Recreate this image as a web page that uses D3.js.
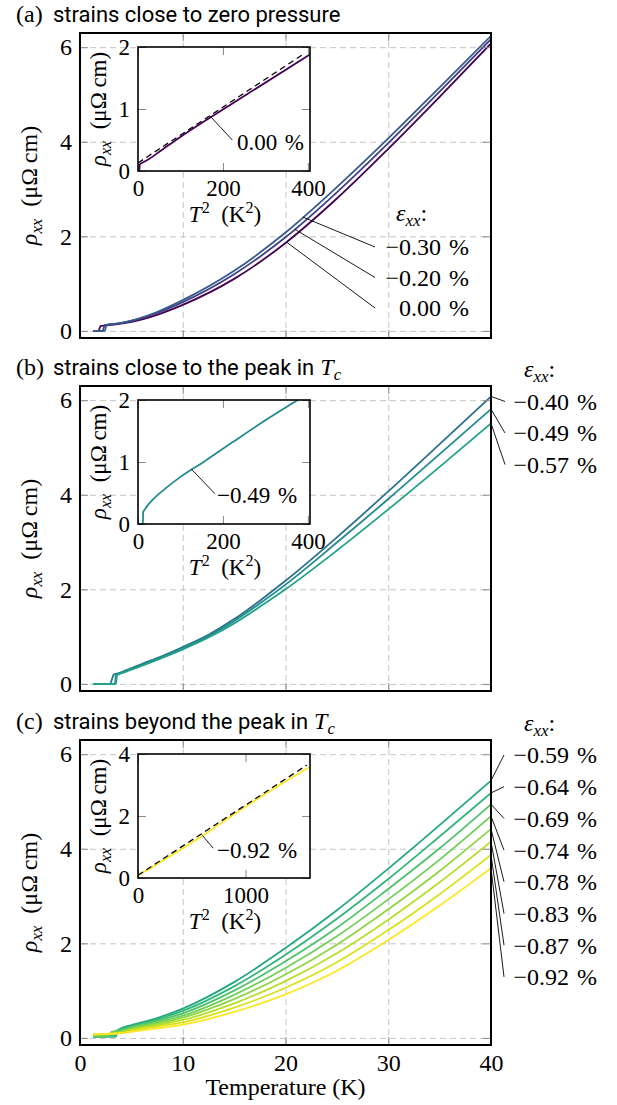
<!DOCTYPE html>
<html>
<head>
<meta charset="utf-8">
<script src="https://cdn.jsdelivr.net/npm/d3@7"></script>
<style>
  body { margin: 0; background: #fff; }
</style>
</head>
<body>
<svg id="chart"></svg>
<script>
// ---- data ----
// panel (a): strains close to zero pressure
const strainsA = [0.00, -0.20, -0.30];
const tempA = [1.3, 1.8, 2.0, 2.2, 2.4, 2.6, 3.5, 5, 7.5, 10, 15, 20, 25, 30, 35, 40];
const rhoA_000 = [0, 0, 0.10, 0.11, 0.115, 0.12, 0.14, 0.19, 0.34, 0.55, 1.10, 1.86, 2.80, 3.85, 4.95, 6.08];
const rhoA_020 = [0, 0, 0, 0, 0.12, 0.125, 0.15, 0.21, 0.38, 0.61, 1.20, 1.98, 2.93, 3.97, 5.06, 6.17];
const rhoA_030 = [0, 0, 0, 0, 0, 0.13, 0.155, 0.22, 0.40, 0.65, 1.27, 2.08, 3.04, 4.07, 5.15, 6.24];
const pointerTA = [20.1, 20.9, 21.7];          // where the label leaders touch the curves (K)
const fitT2A = [0, 393];                       // dashed T^2 fit in inset (a)
const fitRhoA = [0.13, 1.90];

// panel (b): strains close to the peak in Tc
const strainsB = [-0.40, -0.49, -0.57];
const tempB = [1.3, 2.9, 3.3, 3.4, 3.5, 3.6, 4.5, 6, 8, 10, 12.5, 15, 17.5, 20, 25, 30, 35, 40];
const rhoB_040 = [0, 0, 0.20, 0.21, 0.215, 0.22, 0.29, 0.42, 0.59, 0.78, 1.04, 1.37, 1.76, 2.18, 3.10, 4.07, 5.07, 6.08];
const rhoB_049 = [0, 0, 0, 0, 0.20, 0.205, 0.28, 0.40, 0.57, 0.76, 1.01, 1.33, 1.70, 2.10, 2.99, 3.91, 4.86, 5.81];
const rhoB_057 = [0, 0, 0, 0, 0, 0.18, 0.26, 0.38, 0.55, 0.73, 0.98, 1.28, 1.63, 2.00, 2.82, 3.69, 4.59, 5.51];

// panel (c): strains beyond the peak in Tc
const strainsC = [-0.59, -0.64, -0.69, -0.74, -0.78, -0.83, -0.87, -0.92];
const tempC = [1.3, 2.5, 2.8, 3.1, 3.3, 3.5, 3.7, 5, 7.5, 10, 15, 20, 25, 30, 35, 40];
const rhoC_059 = [0.02, 0.025, 0.028, 0.03, 0.03, 0.03, 0.17, 0.27, 0.42, 0.62, 1.18, 1.90, 2.70, 3.58, 4.50, 5.44];
const rhoC_064 = [0.02, 0.028, 0.03, 0.032, 0.033, 0.15, 0.16, 0.25, 0.39, 0.57, 1.09, 1.76, 2.52, 3.36, 4.26, 5.18];
const rhoC_069 = [0.03, 0.035, 0.038, 0.04, 0.14, 0.145, 0.15, 0.23, 0.36, 0.52, 1.00, 1.62, 2.33, 3.15, 4.01, 4.94];
const rhoC_074 = [0.04, 0.05, 0.06, 0.13, 0.133, 0.136, 0.14, 0.21, 0.33, 0.47, 0.91, 1.48, 2.15, 2.93, 3.77, 4.69];
const rhoC_078 = [0.06, 0.075, 0.085, 0.09, 0.095, 0.10, 0.105, 0.19, 0.30, 0.43, 0.82, 1.34, 1.97, 2.72, 3.53, 4.42];
const rhoC_083 = [0.07, 0.08, 0.085, 0.09, 0.093, 0.097, 0.10, 0.17, 0.27, 0.38, 0.73, 1.20, 1.79, 2.50, 3.29, 4.15];
const rhoC_087 = [0.08, 0.085, 0.088, 0.09, 0.092, 0.095, 0.098, 0.15, 0.24, 0.33, 0.64, 1.06, 1.60, 2.28, 3.04, 3.87];
const rhoC_092 = [0.08, 0.085, 0.087, 0.089, 0.09, 0.092, 0.095, 0.13, 0.20, 0.28, 0.55, 0.92, 1.42, 2.07, 2.80, 3.59];
const fitT2C = [0, 1570];                      // dashed T^2 fit in inset (c)
const fitRhoC = [0.09, 3.64];

// axis ticks
const tempTicks = [0, 10, 20, 30, 40];
const rhoTicks = [0, 2, 4, 6];

// ---- layout ----
const W = 617, H = 1105;
const left = 80, right = 491, panelH = 305;
const panelTops = [33, 386, 740];
const inset = { left: 138, right: 310, dy: 14, h: 124 };
const serif = '"Liberation Serif", "DejaVu Serif", serif';
const sans = 'Roboto, "Open Sans", sans-serif';
const fs = 24;

const svg = d3.select("#chart").attr("width", W).attr("height", H)
  .style("font-family", serif);

const x = d3.scaleLinear().domain([0, 40]).range([left, right]);
// strain -> viridis position (curves sit in the blue/teal range up to -0.40 %)
const colorPos = d3.scaleLinear().domain([0, -0.40, -0.92]).range([0, 0.37, 1]).clamp(true);
const color = s => d3.interpolateViridis(colorPos(s));

const strainText = s => (s === 0 ? "" : "\u2212") + Math.abs(s).toFixed(2) + "\u2004%";

// linear lookup on a series, used to anchor the label leaders on the curves
function rhoAt(temps, rhos, t) {
  const i = d3.bisectLeft(temps, t);
  if (i <= 0) return rhos[0];
  if (i >= temps.length) return rhos[rhos.length - 1];
  const f = (t - temps[i - 1]) / (temps[i] - temps[i - 1]);
  return rhos[i - 1] + f * (rhos[i] - rhos[i - 1]);
}

function newText(parent, size) {
  return parent.append("text").attr("font-family", serif).attr("font-size", size).attr("fill", "#000");
}

// math-ish text pieces
function rhoLabel(t, size) {
  t.append("tspan").attr("font-style", "italic").text("ρ");
  t.append("tspan").attr("font-style", "italic").attr("font-size", size * 0.7).attr("dy", size * 0.22).text("xx");
  t.append("tspan").attr("dy", -size * 0.22).text("\u2002(μΩ\u2009cm)");
}
function epsLabel(t, size) {
  t.append("tspan").attr("font-style", "italic").text("ε");
  t.append("tspan").attr("font-style", "italic").attr("font-size", size * 0.7).attr("dy", size * 0.22).text("xx");
  t.append("tspan").attr("dy", -size * 0.22).text(":");
}
function t2Label(t, size) {
  t.append("tspan").attr("font-style", "italic").text("T");
  t.append("tspan").attr("font-size", size * 0.7).attr("dy", -size * 0.38).text("2");
  t.append("tspan").attr("dy", size * 0.38).text("\u2002(K");
  t.append("tspan").attr("font-size", size * 0.7).attr("dy", -size * 0.38).text("2");
  t.append("tspan").attr("dy", size * 0.38).text(")");
}

// inward ticks on all four sides of a box
function boxTicks(g, xs, ys, xTicks, yTicks, showX, showY, size) {
  const [x0, x1] = xs.range();
  const [y0, y1] = ys.range();
  const style = sel => {
    sel.select(".domain").remove();
    sel.attr("font-family", serif).attr("font-size", size);
    sel.selectAll("line").attr("stroke", "#8a8a8a").attr("stroke-width", 1);
    sel.selectAll("text").attr("font-family", serif).attr("font-size", size).attr("fill", "#000");
  };
  g.append("g").attr("transform", `translate(${x0},0)`)
    .call(d3.axisLeft(ys).tickValues(yTicks).tickSize(-8).tickPadding(8).tickFormat(showY ? d3.format("d") : ""))
    .call(style);
  g.append("g").attr("transform", `translate(${x1},0)`)
    .call(d3.axisRight(ys).tickValues(yTicks).tickSize(-8).tickFormat(""))
    .call(style);
  g.append("g").attr("transform", `translate(0,${y1})`)
    .call(d3.axisTop(xs).tickValues(xTicks).tickSize(-8).tickFormat(""))
    .call(style);
  g.append("g").attr("transform", `translate(0,${y0})`)
    .call(d3.axisBottom(xs).tickValues(xTicks).tickSize(-8).tickPadding(9).tickFormat(showX ? d3.format("d") : ""))
    .call(style);
}

function drawPanel(p) {
  const top = panelTops[p.index];
  const bottom = top + panelH;
  const y = d3.scaleLinear().domain([-0.15, 6.3]).range([bottom, top]);
  const g = svg.append("g");
  const defs = svg.append("defs");

  defs.append("clipPath").attr("id", "main" + p.index)
    .append("rect").attr("x", left).attr("y", top).attr("width", right - left).attr("height", panelH);

  // dashed grid
  const grid = sel => {
    sel.select(".domain").remove();
    sel.selectAll("line").attr("stroke", "#c4c4c4").attr("stroke-width", 1).attr("stroke-dasharray", "6,4");
  };
  g.append("g").attr("transform", `translate(${left},0)`)
    .call(d3.axisLeft(y).tickValues(rhoTicks).tickSize(-(right - left)).tickFormat(""))
    .call(grid);
  g.append("g").attr("transform", `translate(0,${bottom})`)
    .call(d3.axisBottom(x).tickValues([10, 20, 30]).tickSize(-panelH).tickFormat(""))
    .call(grid);

  // curves
  const line = d3.line().x(d => x(d[0])).y(d => y(d[1])).curve(d3.curveMonotoneX);
  const series = p.strains.map((s, i) => ({
    strain: s,
    values: p.temps.map((t, j) => [t, p.rhos[i][j]])
  }));
  g.append("g").attr("clip-path", `url(#main${p.index})`)
    .selectAll("path").data(series).join("path")
    .attr("d", d => line(d.values))
    .attr("fill", "none")
    .attr("stroke", d => color(d.strain))
    .attr("stroke-width", 1.8);

  boxTicks(g, x, y, tempTicks, rhoTicks, p.index === 2, true, fs);

  g.append("rect").attr("x", left).attr("y", top).attr("width", right - left).attr("height", panelH)
    .attr("fill", "none").attr("stroke", "#000").attr("stroke-width", 2);

  // y axis title
  const yl = newText(g, fs)
    .attr("transform", `translate(37,${(top + bottom) / 2}) rotate(-90)`)
    .attr("text-anchor", "middle");
  rhoLabel(yl, fs);

  // panel title
  const ti = newText(g, fs).attr("x", 16).attr("y", top - 11);
  ti.append("tspan").text("(" + p.letter + ")");
  ti.append("tspan").attr("x", 53).attr("font-family", sans).attr("font-size", 22).text(p.title);
  if (p.tc) {
    ti.append("tspan").attr("font-style", "italic").attr("font-size", fs).text(" T");
    ti.append("tspan").attr("font-style", "italic").attr("font-size", fs * 0.7).attr("dy", fs * 0.2).text("c");
  }

  // ---- inset ----
  const iTop = top + inset.dy, iBot = iTop + inset.h;
  const ix = d3.scaleLinear().domain(p.insetX).range([inset.left, inset.right]);
  const iy = d3.scaleLinear().domain(p.insetY).range([iBot, iTop]);
  defs.append("clipPath").attr("id", "inset" + p.index)
    .append("rect").attr("x", inset.left).attr("y", iTop).attr("width", inset.right - inset.left).attr("height", inset.h);

  const ig = g.append("g");
  ig.append("rect").attr("x", inset.left).attr("y", iTop).attr("width", inset.right - inset.left).attr("height", inset.h)
    .attr("fill", "#fff");

  const iline = d3.line().x(d => ix(d[0] * d[0])).y(d => iy(d[1])).curve(d3.curveMonotoneX);
  const is = series[p.insetSeries];
  const ic = ig.append("g").attr("clip-path", `url(#inset${p.index})`);
  ic.append("path").attr("d", iline(is.values))
    .attr("fill", "none").attr("stroke", color(is.strain)).attr("stroke-width", 1.8);
  if (p.fitT2) {
    const fline = d3.line().x(d => ix(d[0])).y(d => iy(d[1]));
    ic.append("path").attr("d", fline(p.fitT2.map((t, i) => [t, p.fitRho[i]])))
      .attr("fill", "none").attr("stroke", "#000").attr("stroke-width", 1.3).attr("stroke-dasharray", "6,4");
  }

  boxTicks(ig, ix, iy, p.insetXTicks, p.insetYTicks, true, true, 23);
  ig.append("rect").attr("x", inset.left).attr("y", iTop).attr("width", inset.right - inset.left).attr("height", inset.h)
    .attr("fill", "none").attr("stroke", "#000").attr("stroke-width", 1.6);

  const iyl = newText(ig, 23)
    .attr("transform", `translate(106,${(iTop + iBot) / 2}) rotate(-90)`)
    .attr("text-anchor", "middle");
  rhoLabel(iyl, 23);
  const ixl = newText(ig, 23).attr("x", (inset.left + inset.right) / 2 + 1).attr("y", iBot + 51)
    .attr("text-anchor", "middle");
  t2Label(ixl, 23);

  // inset leader + label
  const a = p.insetPointer;
  const t0 = Math.sqrt(a.from);
  ig.append("line")
    .attr("x1", ix(a.from)).attr("y1", iy(rhoAt(p.temps, p.rhos[p.insetSeries], t0)))
    .attr("x2", ix(a.to[0])).attr("y2", iy(a.to[1]))
    .attr("stroke", "#000").attr("stroke-width", 0.9);
  newText(ig, 23).attr("x", ix(a.text[0])).attr("y", iy(a.text[1])).attr("dy", "0.35em")
    .text(strainText(is.strain));

  // ---- strain labels ----
  const order = series.map((d, i) => i)
    .sort((a, b) => series[b].values[series[b].values.length - 1][1] - series[a].values[series[a].values.length - 1][1]);
  const lg = g.append("g");
  const hd = newText(lg, fs).attr("x", p.labelEnd - 73).attr("y", p.headerY);
  epsLabel(hd, fs);
  order.forEach((si, k) => {
    const cy = p.labelY0 + k * p.labelStep;
    let x1, y1;
    if (p.pointerT) {
      x1 = x(p.pointerT[si]);
      y1 = y(rhoAt(p.temps, p.rhos[si], p.pointerT[si]));
    } else {
      const v = series[si].values;
      x1 = x(v[v.length - 1][0]);
      y1 = y(v[v.length - 1][1]);
    }
    lg.append("line").attr("x1", x1).attr("y1", y1).attr("x2", p.leaderEnd).attr("y2", cy)
      .attr("stroke", "#000").attr("stroke-width", 0.9);
    newText(lg, fs).attr("x", p.labelEnd).attr("y", cy).attr("dy", "0.35em")
      .attr("text-anchor", "end").text(strainText(series[si].strain));
  });

  return y;
}

drawPanel({
  index: 0, letter: "a", title: "strains close to zero pressure", tc: false,
  strains: strainsA, temps: tempA, rhos: [rhoA_000, rhoA_020, rhoA_030],
  insetSeries: 0, insetX: [0, 405], insetY: [0, 2], insetXTicks: [0, 200, 400], insetYTicks: [0, 1, 2],
  fitT2: fitT2A, fitRho: fitRhoA,
  insetPointer: { from: 170, to: [222, 0.5], text: [233, 0.47] },
  pointerT: pointerTA, leaderEnd: 375, labelEnd: 469,
  headerY: 221, labelY0: panelTops[0] + 214, labelStep: 30.5
});

drawPanel({
  index: 1, letter: "b", title: "strains close to the peak in", tc: true,
  strains: strainsB, temps: tempB, rhos: [rhoB_040, rhoB_049, rhoB_057],
  insetSeries: 1, insetX: [0, 405], insetY: [0, 2], insetXTicks: [0, 200, 400], insetYTicks: [0, 1, 2],
  insetPointer: { from: 126, to: [181, 0.49], text: [186, 0.47] },
  leaderEnd: 505, labelEnd: 597,
  headerY: panelTops[1] - 9, labelY0: panelTops[1] + 15.5, labelStep: 31.5
});

drawPanel({
  index: 2, letter: "c", title: "strains beyond the peak in", tc: true,
  strains: strainsC, temps: tempC,
  rhos: [rhoC_059, rhoC_064, rhoC_069, rhoC_074, rhoC_078, rhoC_083, rhoC_087, rhoC_092],
  insetSeries: 7, insetX: [0, 1600], insetY: [0, 4], insetXTicks: [0, 1000], insetYTicks: [0, 2, 4],
  fitT2: fitT2C, fitRho: fitRhoC,
  insetPointer: { from: 600, to: [700, 0.96], text: [735, 0.92] },
  leaderEnd: 504, labelEnd: 597,
  headerY: panelTops[2] - 9, labelY0: panelTops[2] + 15, labelStep: 31.7
});

// x axis title
newText(svg, fs)
  .attr("x", (left + right) / 2).attr("y", 1095)
  .attr("text-anchor", "middle")
  .text("Temperature (K)");
</script>
</body>
</html>
